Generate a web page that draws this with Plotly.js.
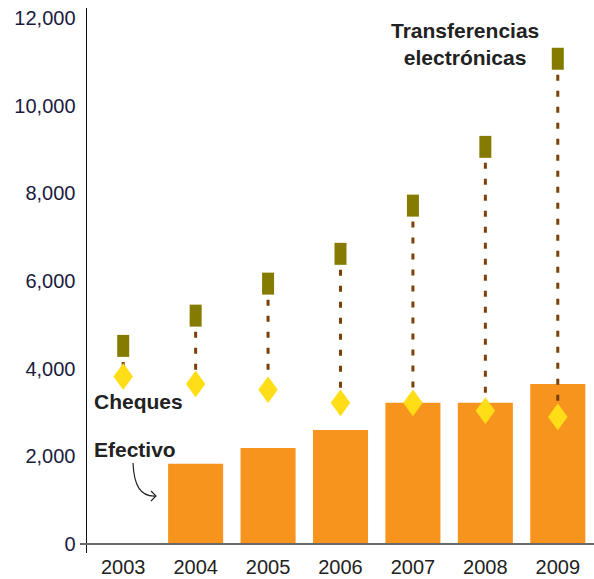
<!DOCTYPE html>
<html>
<head>
<meta charset="utf-8">
<script src="https://cdn.plot.ly/plotly-3.0.1.min.js"></script>
<style>html,body{margin:0;padding:0;background:#fff;}#chart{width:594px;height:579px;}</style>
</head>
<body>
<div id="chart"></div>
<script>
// Data
var years = ['2003', '2004', '2005', '2006', '2007', '2008', '2009'];
var efectivo = [null, 1830, 2190, 2600, 3220, 3220, 3650];
var cheques = [3820, 3650, 3520, 3220, 3220, 3040, 2900];
var transferencias = [4520, 5210, 5940, 6620, 7720, 9060, 11070];
var yTicks = [0, 2000, 4000, 6000, 8000, 10000, 12000];

// marker geometry (style only): half width in category units, half height in axis units
var DHW = 0.131, DHH = 297;

var idx = years.map(function (_, i) { return i; });

// connectors from transferencias down to cheques
var cx = [], cy = [];
// diamond outlines for cheques
var dx = [], dy = [];
for (var i = 0; i < years.length; i++) {
  cx.push(i, i, null);
  cy.push(transferencias[i], cheques[i], null);
  dx.push(i, i + DHW, i, i - DHW, i, null);
  dy.push(cheques[i] + DHH, cheques[i], cheques[i] - DHH, cheques[i], cheques[i] + DHH, null);
}

var L = 87, R = 594, T = 8, B = 553;
function px(x) { return (x - L) / (R - L); }
function py(y) { return (B - y) / (B - T); }

var traces = [
  {type: 'bar', x: idx, y: efectivo, name: 'Efectivo', text: years,
   marker: {color: '#F7941D'}, hoverinfo: 'text+y', textposition: 'none'},
  {type: 'scatter', mode: 'lines', x: cx, y: cy, showlegend: false,
   line: {color: '#7B3F0A', width: 3, dash: '6px,10px'}, hoverinfo: 'skip'},
  {type: 'scatter', mode: 'markers', x: idx, y: transferencias, name: 'Transferencias electrónicas',
   marker: {symbol: 'line-ns', size: 15.7, line: {color: '#857B00', width: 12}}},
  {type: 'scatter', mode: 'lines', x: dx, y: dy, name: 'Cheques', fill: 'toself',
   fillcolor: '#FFDD17', line: {color: '#FFDD17', width: 0.5}, hoverinfo: 'skip'}
];

var annFont = {family: 'Liberation Sans, Arial, sans-serif', size: 21, color: '#222222'};
var layout = {
  width: 594, height: 579,
  margin: {l: L, r: 594 - R, t: T, b: 579 - B, pad: 0},
  paper_bgcolor: '#ffffff', plot_bgcolor: '#ffffff',
  showlegend: false,
  bargap: 0.24,
  font: {family: 'Liberation Sans, Arial, sans-serif'},
  xaxis: {
    type: 'linear', range: [-0.5, 6.5], tickvals: idx, ticktext: years,
    showgrid: false, zeroline: false,
    showline: false, ticks: '', automargin: false,
    tickfont: {size: 20, color: '#222222'}
  },
  yaxis: {
    range: [-205, 12228], tickvals: yTicks, tickformat: ',d',
    showgrid: false, zeroline: false, showline: true, linecolor: '#111111', linewidth: 1.5,
    ticks: '', automargin: false, ticklabelstandoff: 6,
    tickfont: {size: 20, color: '#1a1a40'}
  },
  shapes: [
    {type: 'line', xref: 'paper', yref: 'y', x0: px(80), x1: 1, y0: 0, y1: 0,
     line: {color: '#6a6a6a', width: 2}},
    {type: 'path', xref: 'paper', yref: 'paper',
     path: 'M' + px(133) + ',' + py(463) + ' C' + px(134) + ',' + py(485) + ' ' + px(140) + ',' + py(497) + ' ' + px(156) + ',' + py(496),
     line: {color: '#222222', width: 1.2}},
    {type: 'path', xref: 'paper', yref: 'paper',
     path: 'M' + px(151) + ',' + py(491) + ' L' + px(156) + ',' + py(496) + ' L' + px(151) + ',' + py(501),
     line: {color: '#222222', width: 1.2}}
  ],
  annotations: [
    {xref: 'paper', yref: 'paper', x: px(465), y: py(43.5), text: '<b>Transferencias<br>electrónicas</b>',
     showarrow: false, xanchor: 'center', yanchor: 'middle', font: annFont},
    {xref: 'paper', yref: 'paper', x: px(92), y: py(401), text: '<b>Cheques</b>',
     showarrow: false, xanchor: 'left', yanchor: 'middle', font: annFont},
    {xref: 'paper', yref: 'paper', x: px(92), y: py(449), text: '<b>Efectivo</b>',
     showarrow: false, xanchor: 'left', yanchor: 'middle', font: annFont}
  ]
};

Plotly.newPlot('chart', traces, layout, {displayModeBar: false, staticPlot: true});
</script>
</body>
</html>
